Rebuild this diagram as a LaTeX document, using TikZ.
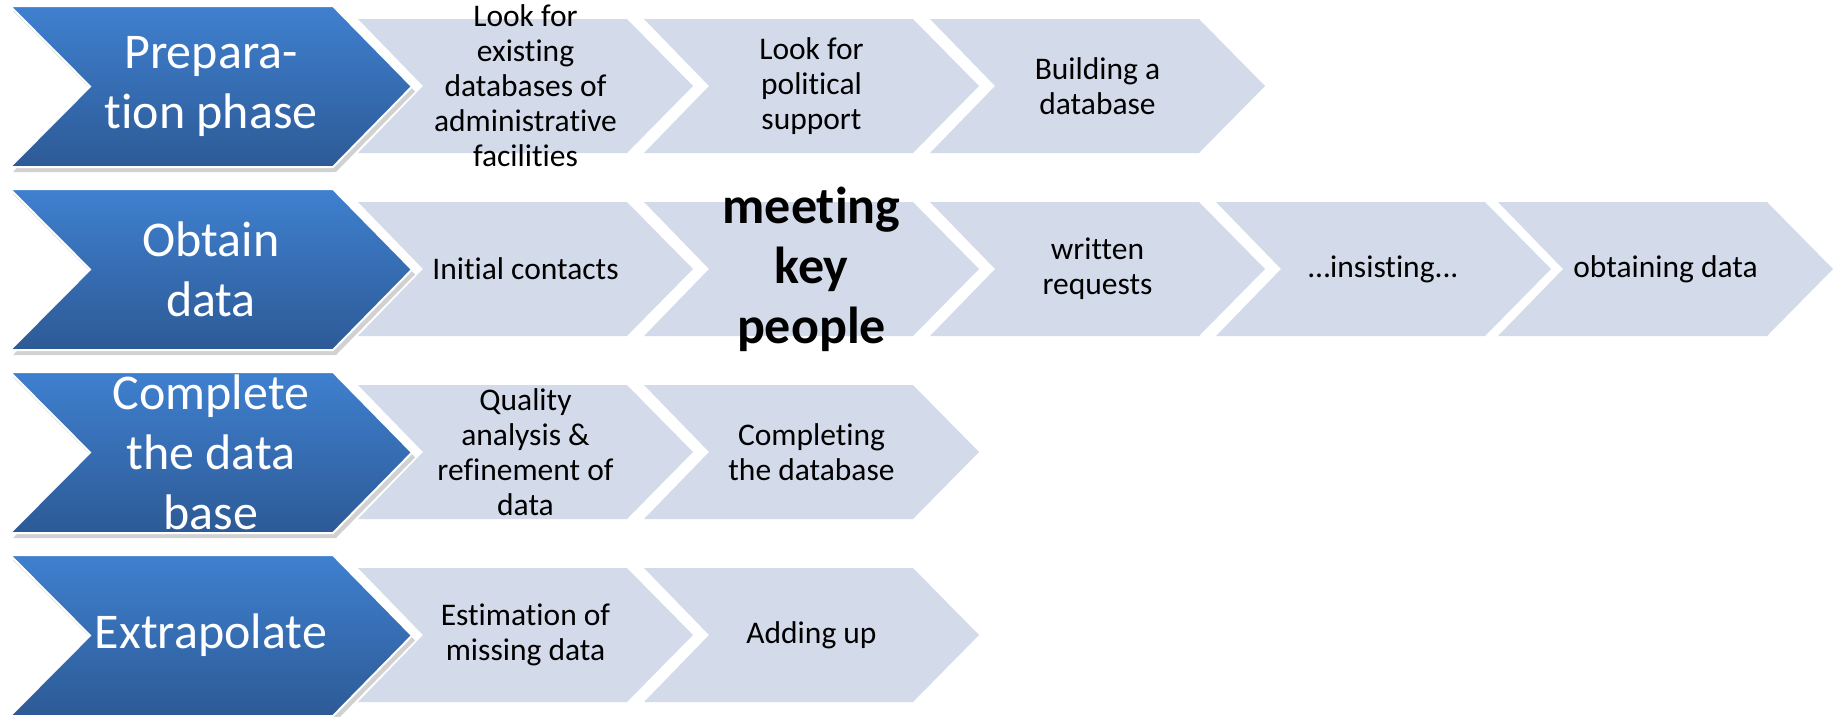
\documentclass[tikz,border=0pt]{standalone}
\usepackage{fontspec}
\setmainfont{Carlito}[Ligatures={NoCommon}]
\usetikzlibrary{shadows}
\definecolor{lightc}{HTML}{D3DBEA}
\definecolor{bluetop}{HTML}{3F80CF}
\definecolor{bluebot}{HTML}{2D5A96}
\tikzset{
  ltext/.style={align=center,inner sep=0pt,text=black,font=\fontsize{31.5}{35}\selectfont},
  btext/.style={align=center,inner sep=0pt,text=white,font=\fontsize{50}{60}\selectfont},
  ktext/.style={align=center,inner sep=0pt,text=black,font=\bfseries\fontsize{52}{60}\selectfont},
  lshape/.style={fill=lightc},
  bshape/.style={top color=bluetop,bottom color=bluebot,draw=white,line width=2pt,
    drop shadow={shadow xshift=3pt,shadow yshift=-5pt,opacity=0.3,fill=black!60}}
}
% light chevron: #1 x left, #2 y top
\newcommand\lchev[2]{%
  \fill[lshape] (#1,#2) -- ++(269,0) -- ++(66,67) -- ++(-66,67) -- ++(-269,0) -- ++(65,-67) -- cycle;}
% blue chevron: #1 y top
\newcommand\bchev[1]{%
  \shade[bshape] (10,#1) -- (333,#1) -- (412,#1+80.5) -- (333,#1+161) -- (10,#1+161) -- (90,#1+80.5) -- cycle;}
\begin{document}
\begin{tikzpicture}[x=1pt,y=-1pt]
\useasboundingbox (0,0) rectangle (1835,716);
% Row 1
\lchev{358}{19}\lchev{644}{19}\lchev{930}{19}
\bchev{6}
\node[btext] (b1) at (211,86.5) {Prepara-\\tion phase};
\node[ltext] (r1a) at (525.5,86) {Look for\\existing\\databases of\\administrative\\facilities};
\node[ltext] (r1b) at (811.5,86) {Look for\\political\\support};
\node[ltext] (r1c) at (1097.5,86) {Building a\\database};
% Row 2
\lchev{358}{202}\lchev{644}{202}\lchev{930}{202}\lchev{1216}{202}\lchev{1498}{202}
\bchev{189}
\node[btext] (b2) at (211,269.5) {Obtain\\data};
\node[ltext] (r2a) at (525.5,269) {Initial contacts};
\node[ktext] (r2b) at (811.5,269) {meeting\\key\\people};
\node[ltext] (r2c) at (1097.5,269) {written\\requests};
\node[ltext] (r2d) at (1383.5,269) {…insisting...};
\node[ltext] (r2e) at (1665.5,269) {obtaining data};
% Row 3
\lchev{358}{385}\lchev{644}{385}
\bchev{372}
\node[btext] (b3) at (211,452.5) {Complete\\the data\\base};
\node[ltext] (r3a) at (525.5,452) {Quality\\analysis \&\\refinement of\\data};
\node[ltext] (r3b) at (811.5,452) {Completing\\the database};
% Row 4
\lchev{358}{568}\lchev{644}{568}
\bchev{555}
\node[btext] (b4) at (211,635.5) {Extrapolate};
\node[ltext] (r4a) at (525.5,635) {Estimation of\\missing data};
\node[ltext] (r4b) at (811.5,635) {Adding up};
\end{tikzpicture}
\end{document}
